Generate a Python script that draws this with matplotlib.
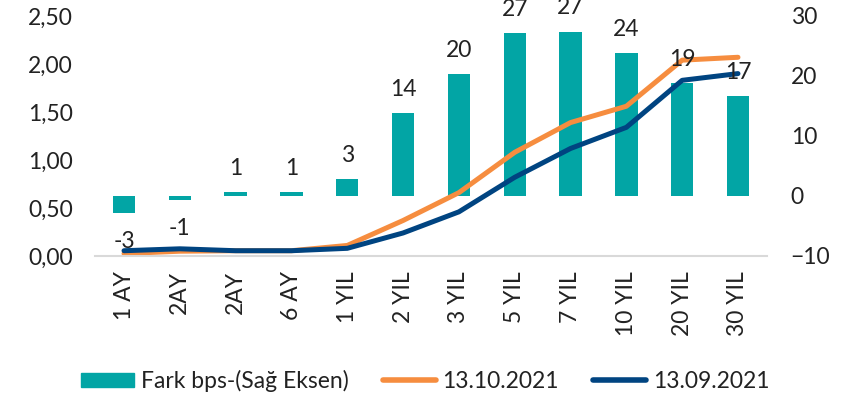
import numpy as np
import matplotlib
matplotlib.use("Agg")
import matplotlib.pyplot as plt
from matplotlib.ticker import FuncFormatter
from matplotlib.patches import Patch
from matplotlib.lines import Line2D

plt.rcParams['font.family'] = ['Lato', 'DejaVu Sans']

# tenors
categories = ['1 AY', '2AY', '2AY', '6 AY', '1 YIL', '2 YIL', '3 YIL',
              '5 YIL', '7 YIL', '10 YIL', '20 YIL', '30 YIL']
# spread in bps (right axis)
fark_bps = [-2.8, -0.7, 0.7, 0.7, 2.8, 13.8, 20.3, 27.1, 27.4, 23.8, 18.8, 16.7]
# yield curves (left axis)
curve_oct = [0.025, 0.05, 0.055, 0.055, 0.11, 0.37, 0.66, 1.08, 1.39, 1.56, 2.04, 2.07]
curve_sep = [0.055, 0.075, 0.055, 0.055, 0.08, 0.24, 0.46, 0.82, 1.12, 1.34, 1.83, 1.90]

teal = '#02A5A5'
orange = '#F68D3F'
navy = '#004481'
txt = '#222222'
fs = 16.5

fig = plt.figure(figsize=(8.42, 4.0), dpi=100)
ax = fig.add_axes([95/842, 1-256/400, 672/842, 240/400])
ax2 = ax.twinx()

x = np.arange(len(categories))

# bars on the right axis
ax2.bar(x, fark_bps, width=0.4, color=teal, zorder=2)
ax2.set_ylim(-10, 30)
ax2.set_yticks([-10, 0, 10, 20, 30])

# lines on the left axis, drawn above the bars
ax.set_zorder(ax2.get_zorder() + 1)
ax.patch.set_visible(False)
ax.plot(x, curve_oct, color=orange, lw=3.6, solid_capstyle='round', solid_joinstyle='round')
ax.plot(x, curve_sep, color=navy, lw=3.6, solid_capstyle='round', solid_joinstyle='round')
ax.set_ylim(0, 2.5)
ax.set_yticks(np.arange(0, 2.51, 0.5))
ax.yaxis.set_major_formatter(FuncFormatter(lambda v, p: f'{v:.2f}'.replace('.', ',')))
ax.set_xlim(-0.52, 11.52)
ax.set_xticks(x)
ax.set_xticklabels(categories, rotation=90, va='top', ha='center')

# bar labels
for xi, v in zip(x, fark_bps):
    if v >= 0:
        ax.annotate(f'{round(v):d}', (xi, v), xycoords=ax2.transData,
                    xytext=(0, 9.5), textcoords='offset points',
                    ha='center', va='bottom', fontsize=fs, color=txt)
    else:
        ax.annotate(f'{round(v):d}', (xi, v), xycoords=ax2.transData,
                    xytext=(0, -13), textcoords='offset points',
                    ha='center', va='top', fontsize=fs, color=txt)

for a in (ax, ax2):
    for s in a.spines.values():
        s.set_visible(False)
    a.tick_params(length=0, labelsize=fs, colors=txt)
ax.spines['bottom'].set_visible(True)
ax.spines['bottom'].set_color('#d9d9d9')
ax.spines['bottom'].set_linewidth(1.5)
ax.tick_params(axis='y', pad=16)
ax.tick_params(axis='x', pad=11)
ax2.tick_params(axis='y', pad=17)

# legend
handles = [Patch(color=teal),
           Line2D([], [], color=orange, lw=4, solid_capstyle='round'),
           Line2D([], [], color=navy, lw=4, solid_capstyle='round')]
labels = ['Fark bps-(Sağ Eksen)', '13.10.2021', '13.09.2021']
fig.legend(handles, labels, loc='center', bbox_to_anchor=(0.505, 0.0475), ncol=3,
           frameon=False, fontsize=fs, handlelength=2.3, handleheight=0.6,
           handletextpad=0.3, columnspacing=1.5, labelcolor=txt)

fig.savefig('out.png', dpi=100)
